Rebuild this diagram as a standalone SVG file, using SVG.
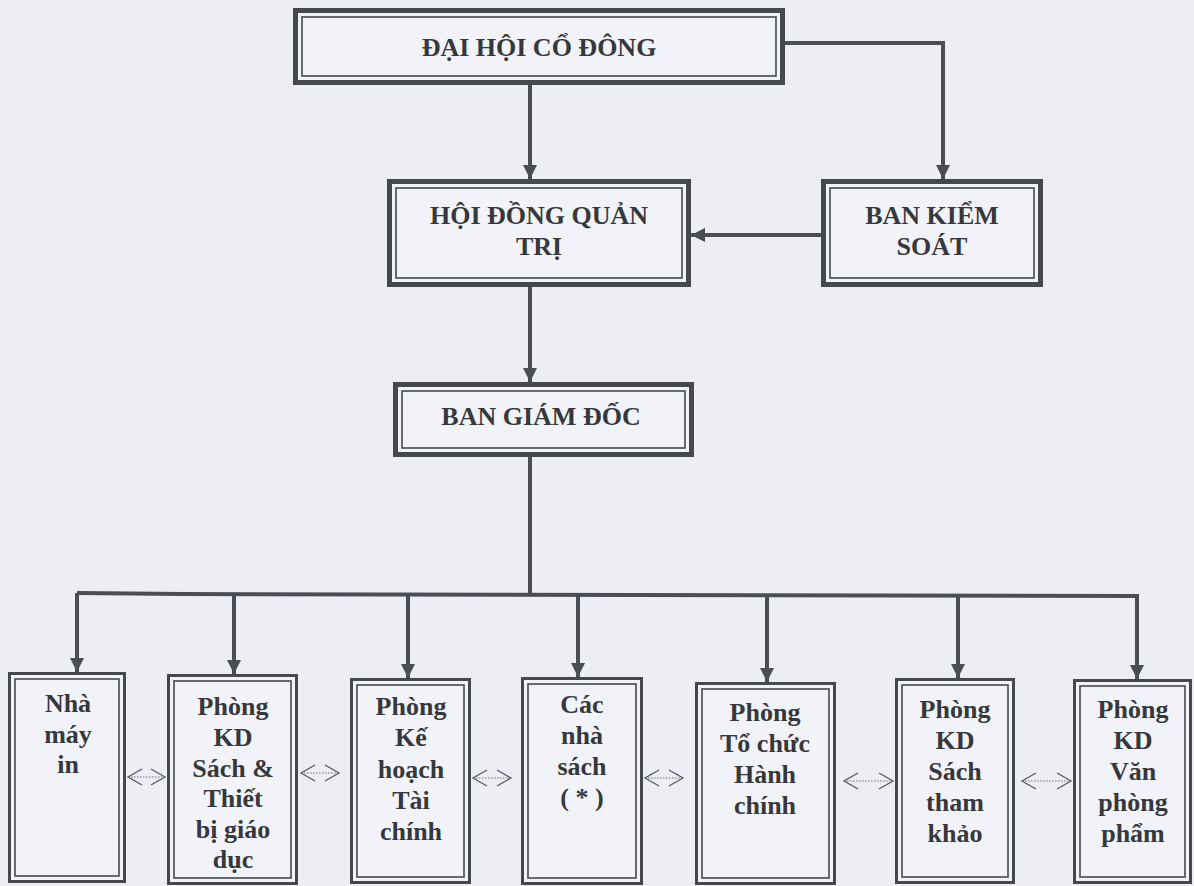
<svg xmlns="http://www.w3.org/2000/svg" width="1194" height="886" viewBox="0 0 1194 886">
<defs>
<style>
.bg{fill:#eceef4}
.ob{fill:#f1f3f8;stroke:#45484d;stroke-width:5}
.ib{fill:none;stroke:#45484d;stroke-width:1.6}
.obs{fill:#f1f3f8;stroke:#45484d;stroke-width:3}
.t{font-family:"Liberation Serif","Times New Roman",serif;font-weight:bold;font-size:26px;fill:#36383c;text-anchor:middle}
.c{fill:none;stroke:#4a4d52;stroke-width:4}
.ch{fill:none;stroke:#55585d;stroke-width:1.3}
.dl{fill:none;stroke:#6a6d72;stroke-width:1.2;stroke-dasharray:1.5 1.5}
</style>
<marker id="ah" markerUnits="userSpaceOnUse" markerWidth="16" markerHeight="16" refX="14" refY="7" orient="auto">
<path d="M0,0 L14,7 L0,14 Z" fill="#4a4d52"/>
</marker>
</defs>
<rect class="bg" x="0" y="0" width="1194" height="886"/>

<g id="connectors">
<path class="c" d="M785,43 H943 V179" marker-end="url(#ah)"/>
<path class="c" d="M530,85 V179" marker-end="url(#ah)"/>
<path class="c" d="M821,235 H691" marker-end="url(#ah)"/>
<path class="c" d="M530,287 V382" marker-end="url(#ah)"/>
<path class="c" d="M530,457 V595"/>
<path class="c" d="M77,593 L184,594 L1139,596"/>
<path class="c" d="M77,593 V672" marker-end="url(#ah)"/>
<path class="c" d="M234,594 V674" marker-end="url(#ah)"/>
<path class="c" d="M408,595 V678" marker-end="url(#ah)"/>
<path class="c" d="M578,595 V677" marker-end="url(#ah)"/>
<path class="c" d="M767,595 V682" marker-end="url(#ah)"/>
<path class="c" d="M958,596 V678" marker-end="url(#ah)"/>
<path class="c" d="M1137,596 V679" marker-end="url(#ah)"/>
<!-- dotted double arrows -->
<g>
<polyline class="ch" points="142,769 128,777 142,785"/><polyline class="ch" points="151,769 165,777 151,785"/><line class="dl" x1="131" y1="777" x2="162" y2="777"/>
</g>
<g>
<polyline class="ch" points="315,765 301,773 315,781"/><polyline class="ch" points="325,765 339,773 325,781"/><line class="dl" x1="304" y1="773" x2="336" y2="773"/>
</g>
<g>
<polyline class="ch" points="487,770 473,778 487,786"/><polyline class="ch" points="497,770 511,778 497,786"/><line class="dl" x1="476" y1="778" x2="508" y2="778"/>
</g>
<g>
<polyline class="ch" points="659,770 645,778 659,786"/><polyline class="ch" points="669,770 683,778 669,786"/><line class="dl" x1="648" y1="778" x2="680" y2="778"/>
</g>
<g>
<polyline class="ch" points="858,773 844,781 858,789"/><polyline class="ch" points="879,773 893,781 879,789"/><line class="dl" x1="847" y1="781" x2="890" y2="781"/>
</g>
<g>
<polyline class="ch" points="1036,773 1022,781 1036,789"/><polyline class="ch" points="1057,773 1071,781 1057,789"/><line class="dl" x1="1025" y1="781" x2="1068" y2="781"/>
</g>
</g>

<g id="dai-hoi-co-dong">
<rect class="ob" x="295.5" y="10.5" width="487" height="72"/>
<rect class="ib" x="302" y="17" width="474" height="59"/>
<text class="t" x="539" y="56">ĐẠI HỘI CỔ ĐÔNG</text>
</g>

<g id="hoi-dong-quan-tri">
<rect class="ob" x="389.5" y="181.5" width="299" height="103"/>
<rect class="ib" x="396" y="188" width="286" height="90"/>
<text class="t" x="539" y="224">HỘI ĐỒNG QUẢN</text>
<text class="t" x="539" y="255">TRỊ</text>
</g>

<g id="ban-kiem-soat">
<rect class="ob" x="823.5" y="181.5" width="217" height="103"/>
<rect class="ib" x="830" y="188" width="204" height="90"/>
<text class="t" x="932" y="224">BAN KIỂM</text>
<text class="t" x="932" y="255">SOÁT</text>
</g>

<g id="ban-giam-doc">
<rect class="ob" x="395.5" y="384.5" width="296" height="70"/>
<rect class="ib" x="402" y="391" width="283" height="57"/>
<text class="t" x="541" y="425">BAN GIÁM ĐỐC</text>
</g>

<g id="nha-may-in">
<rect class="obs" x="9.5" y="673.5" width="115" height="208"/>
<rect class="ib" x="15" y="679" width="104" height="197"/>
<text class="t" x="68" y="712">Nhà</text>
<text class="t" x="68" y="743">máy</text>
<text class="t" x="68" y="773">in</text>
</g>

<g id="phong-kd-sach-thiet-bi">
<rect class="obs" x="168.5" y="675.5" width="128" height="208"/>
<rect class="ib" x="174" y="681" width="117" height="197"/>
<text class="t" x="233" y="715">Phòng</text>
<text class="t" x="233" y="746">KD</text>
<text class="t" x="233" y="777">Sách &amp;</text>
<text class="t" x="233" y="807">Thiết</text>
<text class="t" x="233" y="838">bị giáo</text>
<text class="t" x="233" y="868">dục</text>
</g>

<g id="phong-ke-hoach-tai-chinh">
<rect class="obs" x="351.5" y="679.5" width="118" height="203"/>
<rect class="ib" x="357" y="685" width="107" height="192"/>
<text class="t" x="411" y="715">Phòng</text>
<text class="t" x="411" y="746">Kế</text>
<text class="t" x="411" y="778">hoạch</text>
<text class="t" x="411" y="809">Tài</text>
<text class="t" x="411" y="840">chính</text>
</g>

<g id="cac-nha-sach">
<rect class="obs" x="522.5" y="678.5" width="119" height="205"/>
<rect class="ib" x="528" y="684" width="108" height="194"/>
<text class="t" x="582" y="713">Các</text>
<text class="t" x="582" y="744">nhà</text>
<text class="t" x="582" y="775">sách</text>
<text class="t" x="582" y="806">( * )</text>
</g>

<g id="phong-to-chuc-hanh-chinh">
<rect class="obs" x="696.5" y="683.5" width="138" height="200"/>
<rect class="ib" x="702" y="689" width="127" height="189"/>
<text class="t" x="765" y="721">Phòng</text>
<text class="t" x="765" y="752">Tổ chức</text>
<text class="t" x="765" y="783">Hành</text>
<text class="t" x="765" y="814">chính</text>
</g>

<g id="phong-kd-sach-tham-khao">
<rect class="obs" x="896.5" y="679.5" width="117" height="203"/>
<rect class="ib" x="902" y="685" width="106" height="192"/>
<text class="t" x="955" y="718">Phòng</text>
<text class="t" x="955" y="749">KD</text>
<text class="t" x="955" y="780">Sách</text>
<text class="t" x="955" y="811">tham</text>
<text class="t" x="955" y="842">khảo</text>
</g>

<g id="phong-kd-van-phong-pham">
<rect class="obs" x="1074.5" y="680.5" width="116" height="202"/>
<rect class="ib" x="1080" y="686" width="105" height="191"/>
<text class="t" x="1133" y="718">Phòng</text>
<text class="t" x="1133" y="749">KD</text>
<text class="t" x="1133" y="780">Văn</text>
<text class="t" x="1133" y="811">phòng</text>
<text class="t" x="1133" y="842">phẩm</text>
</g>
</svg>
